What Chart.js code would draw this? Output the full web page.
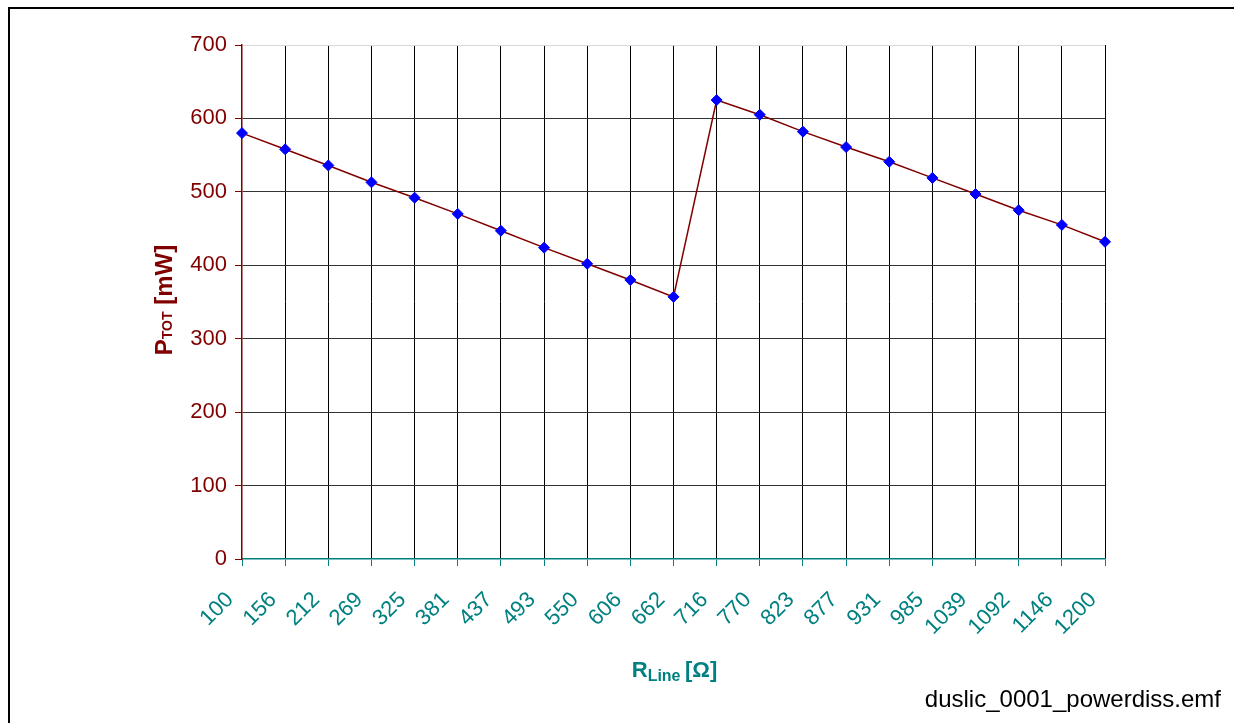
<!DOCTYPE html>
<html>
<head>
<meta charset="utf-8">
<script src="https://cdn.jsdelivr.net/npm/chart.js@4"></script>
<style>
html,body{margin:0;padding:0;background:#fff;}
canvas{display:block;}
</style>
</head>
<body>
<canvas id="c" width="1234" height="723"></canvas>
<script>
const categories = ["100","156","212","269","325","381","437","493","550","606","662","716","770","823","877","931","985","1039","1092","1146","1200"];
const ptotValues = [580,558,536,513,492,470,447,424,402,380,357,625,605,582,561,541,519,497,475,455,432];
const yTicks = [0,100,200,300,400,500,600,700];

const FONT = '"Liberation Sans", Arial, sans-serif';
const RED = '#800000';
const TEAL = '#008080';

function drawParts(ctx, parts, cx, cy) {
  let total = 0;
  parts.forEach(p => { ctx.font = p.font; p.w = ctx.measureText(p.text).width; total += p.w; });
  let x = cx - total / 2;
  parts.forEach(p => {
    ctx.font = p.font;
    ctx.fillText(p.text, x, cy + (p.dy || 0));
    x += p.w;
  });
}

const decorPlugin = {
  id: 'decor',
  beforeDraw(chart) {
    const ctx = chart.ctx;
    ctx.save();
    ctx.fillStyle = '#fff';
    ctx.fillRect(0, 0, chart.width, chart.height);
    ctx.strokeStyle = '#000';
    ctx.lineWidth = 2;
    ctx.beginPath();
    ctx.moveTo(9, 723);
    ctx.lineTo(9, 8);
    ctx.lineTo(1234, 8);
    ctx.stroke();
    ctx.restore();
  },
  afterDraw(chart) {
    const ctx = chart.ctx;
    ctx.save();
    ctx.textBaseline = 'alphabetic';
    ctx.textAlign = 'left';
    // Y title
    ctx.fillStyle = RED;
    ctx.translate(172, 300);
    ctx.rotate(-Math.PI / 2);
    drawParts(ctx, [
      {text: 'P', font: 'bold 24px ' + FONT},
      {text: 'TOT', font: 'bold 14px ' + FONT, dy: 0},
      {text: ' [mW]', font: 'bold 24px ' + FONT}
    ], 0, 0);
    ctx.restore();
    ctx.save();
    ctx.textBaseline = 'alphabetic';
    ctx.textAlign = 'left';
    ctx.fillStyle = TEAL;
    drawParts(ctx, [
      {text: 'R', font: 'bold 22px ' + FONT},
      {text: 'Line ', font: 'bold 16px ' + FONT, dy: 4},
      {text: '[Ω]', font: 'bold 22px ' + FONT}
    ], 674.5, 677);
    // footer
    ctx.fillStyle = '#000';
    ctx.textAlign = 'right';
    ctx.font = '24px ' + FONT;
    ctx.fillText('duslic_0001_powerdiss.emf', 1221, 707);
    ctx.restore();
  }
};

new Chart(document.getElementById('c'), {
  type: 'line',
  data: {
    labels: categories,
    datasets: [{
      data: ptotValues,
      borderColor: RED,
      borderWidth: 1.5,
      pointStyle: 'rectRot',
      pointRadius: 5.5,
      pointBackgroundColor: '#0000ff',
      pointBorderColor: '#0000ff',
      pointBorderWidth: 1,
      tension: 0,
      fill: false
    }]
  },
  options: {
    responsive: false,
    animation: false,
    devicePixelRatio: 1,
    layout: {padding: {left: 0, right: 129, top: 45, bottom: 0}},
    plugins: {legend: {display: false}, tooltip: {enabled: false}},
    events: [],
    scales: {
      x: {
        type: 'category',
        offset: false,
        afterFit(s) { s.height = 164; },
        border: {color: TEAL, width: 1.5},
        grid: {
          color: ctx => ctx.index === 0 ? 'rgba(0,0,0,0)' : '#000',
          lineWidth: 1,
          tickColor: TEAL,
          tickLength: 7
        },
        ticks: {
          color: TEAL,
          font: {family: FONT, size: 22},
          minRotation: 45,
          maxRotation: 45,
          autoSkip: false,
          padding: 21,
          labelOffset: -12
        }
      },
      y: {
        min: 0,
        max: 700,
        afterFit(s) { s.width = 242; },
        afterBuildTicks(s) { s.ticks = yTicks.map(v => ({value: v})); },
        border: {color: RED, width: 1.5},
        grid: {
          color: ctx => {
            const v = ctx.tick ? ctx.tick.value : null;
            if (v === 0) return 'rgba(0,0,0,0)';
            if (v === 700) return '#d9d9d9';
            return '#333';
          },
          lineWidth: 1,
          tickColor: RED,
          tickLength: 7
        },
        ticks: {
          color: RED,
          font: {family: FONT, size: 22},
          padding: 8
        }
      }
    }
  },
  plugins: [decorPlugin]
});
</script>
</body>
</html>
